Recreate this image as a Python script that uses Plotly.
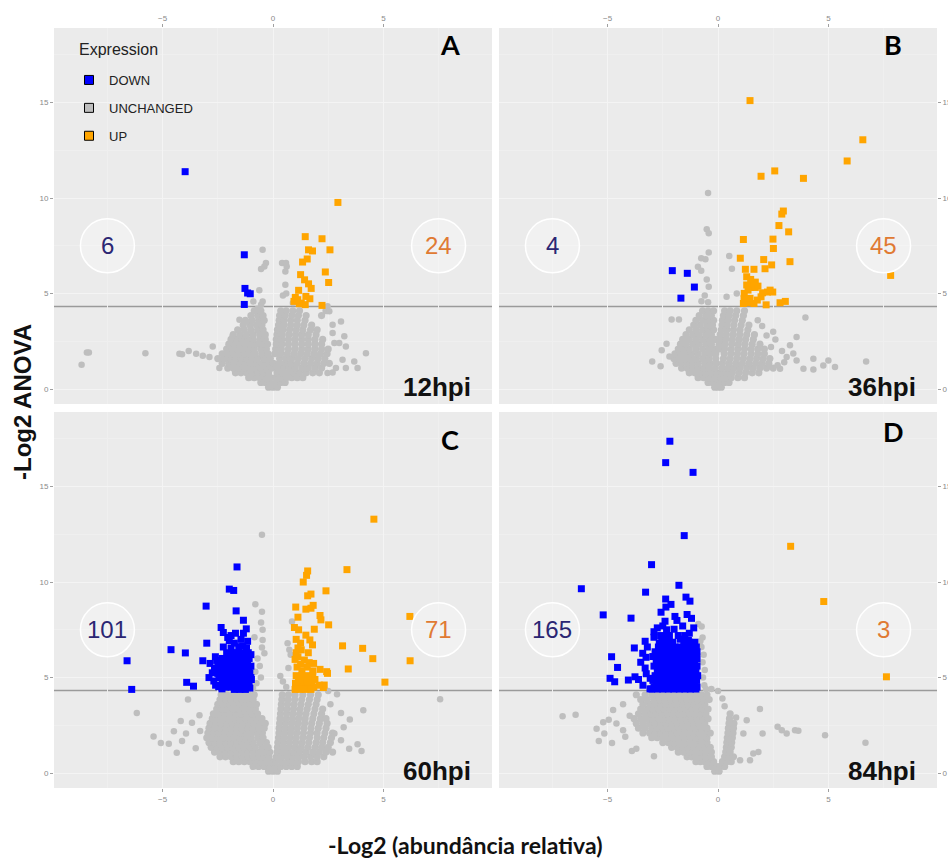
import plotly.graph_objects as go

# ---------------- DATA ----------------
PANELS = ["A", "B", "C", "D"]
TIMES = ["12hpi", "36hpi", "60hpi", "84hpi"]
N_DOWN = [6, 4, 101, 165]
N_UP = [24, 45, 71, 3]
THRESHOLD = 4.32  # -log2(0.05)

# ---- Panel A (12hpi) ----
DOWN_A = [(-3.98, 11.38), (-1.30, 7.03), (-1.27, 5.27), (-1.15, 5.03), (-1.03, 4.99), (-1.30, 4.43)]
UP_A = [(2.94, 9.77), (1.46, 7.98), (2.22, 7.87), (1.61, 7.29), (1.79, 7.23), (2.58, 7.29),
        (1.55, 6.81), (1.34, 6.65), (2.37, 6.13), (1.25, 5.99), (1.43, 5.72), (1.61, 5.51),
        (2.52, 5.58), (1.73, 5.27), (1.16, 5.17), (1.01, 4.80), (1.49, 4.85), (1.67, 4.73),
        (0.95, 4.59), (1.28, 4.50), (1.46, 4.42), (2.22, 4.38), (1.19, 4.47), (1.12, 4.68)]
GREY_A_ROWS = [
    (0.10, [-0.2, 0.0, 0.2]),
    (0.35, [-0.55, -0.35, -0.15, 0.15, 0.35, 0.55]),
    (0.60, [-1.1, -0.85, -0.6, -0.35, -0.12, 0.12, 0.35, 0.6, 0.85, 1.1, 1.35]),
    (0.85, [-1.7, -1.45, -1.2, -0.95, -0.7, -0.45, -0.2, 0.18, 0.42, 0.68, 0.95, 1.2, 1.5, 1.8, 2.1]),
    (1.10, [-2.05, -1.8, -1.55, -1.3, -1.05, -0.8, -0.55, -0.3, -0.05, 0.22, 0.48, 0.75, 1.0, 1.3, 1.6, 1.9, 2.2]),
    (1.35, [-2.3, -2.0, -1.75, -1.5, -1.25, -1.0, -0.75, -0.48, -0.25, 0.02, 0.28, 0.55, 0.8, 1.1, 1.4, 1.7, 2.0, 2.3, 2.55]),
    (1.60, [-2.5, -2.2, -1.95, -1.7, -1.45, -1.2, -0.95, -0.7, -0.4, -0.12, 0.3, 0.58, 0.85, 1.15, 1.45, 1.75, 2.05, 2.35]),
    (1.85, [-2.3, -2.05, -1.8, -1.55, -1.3, -1.05, -0.8, -0.5, -0.22, 0.08, 0.35, 0.65, 0.95, 1.25, 1.55, 1.85, 2.15, 2.45]),
    (2.10, [-2.1, -1.85, -1.6, -1.35, -1.1, -0.85, -0.55, -0.3, 0.12, 0.38, 0.7, 1.0, 1.3, 1.6, 1.9, 2.2, 2.5]),
    (2.35, [-2.0, -1.75, -1.5, -1.25, -1.0, -0.75, -0.5, -0.25, 0.15, 0.4, 0.7, 1.0, 1.3, 1.6, 1.9, 2.2]),
    (2.60, [-1.9, -1.65, -1.4, -1.15, -0.9, -0.6, -0.35, 0.15, 0.4, 0.7, 1.0, 1.3, 1.6, 1.9, 2.25]),
    (2.85, [-1.8, -1.5, -1.2, -0.9, -0.6, -0.35, 0.18, 0.42, 0.72, 1.02, 1.3, 1.6, 1.95]),
    (3.10, [-1.6, -1.3, -1.0, -0.7, -0.45, 0.2, 0.45, 0.75, 1.05, 1.35, 1.7, 2.0]),
    (3.35, [-1.35, -1.05, -0.75, -0.5, 0.25, 0.5, 0.8, 1.1, 1.4, 1.75]),
    (3.60, [-1.25, -0.95, -0.65, -0.4, 0.28, 0.5, 0.8, 1.1, 1.45]),
    (3.85, [-1.0, -0.7, -0.45, 0.3, 0.55, 0.85, 1.15, 1.5, 2.2]),
    (4.10, [-0.85, -0.55, 0.35, 0.6, 0.9, 1.2, 2.4]),
]
GREY_A_OUT = [(-8.67, 1.27), (-8.43, 1.92), (-8.34, 1.92), (-5.78, 1.88), (-4.24, 1.85), (-4.12, 1.82),
              (-3.82, 1.99), (-3.48, 1.85), (-3.18, 1.75), (-2.88, 1.68), (-2.73, 2.23), (-2.43, 1.10),
              (-0.47, 7.29), (-0.32, 6.60), (-0.39, 6.42), (-0.54, 6.28), (0.41, 6.60), (0.59, 6.60),
              (0.62, 6.42), (0.56, 6.16), (0.56, 5.46), (-0.62, 5.17), (-0.89, 4.59), (-0.47, 4.59),
              (-0.54, 4.42), (-1.52, 3.63), (-1.22, 3.54), (-1.83, 2.76), (2.47, 4.33), (2.55, 4.07),
              (2.70, 3.37), (3.08, 3.54), (2.70, 2.93), (3.23, 2.76), (2.78, 2.41), (3.00, 2.41),
              (3.30, 2.23), (4.21, 1.88), (3.68, 1.45), (3.83, 1.10), (3.30, 1.10), (2.85, 1.10),
              (2.70, 0.87), (2.47, 0.84), (3.15, 1.54), (0.60, 5.00), (0.90, 4.50), (0.45, 4.90),
              (-0.70, 4.20)]

# ---- Panel B (36hpi) ----
DOWN_B = [(-2.07, 6.20), (-1.39, 6.06), (-1.07, 5.34), (-1.68, 4.76)]
UP_B = [(1.45, 15.10), (6.56, 13.05), (5.85, 11.94), (1.95, 11.14), (2.57, 11.42), (3.87, 11.03),
        (2.96, 9.32), (2.89, 9.16), (2.76, 8.56), (3.20, 8.23), (1.15, 7.83), (2.49, 7.85),
        (2.51, 7.36), (1.01, 6.85), (2.07, 6.78), (3.26, 6.67), (2.43, 6.50), (2.13, 6.30),
        (1.24, 6.27), (1.63, 6.27), (1.30, 5.88), (1.48, 5.74), (1.57, 5.53), (1.69, 5.32),
        (1.48, 5.32), (1.81, 5.39), (1.36, 5.18), (1.19, 5.01), (2.02, 5.04), (2.24, 5.08),
        (2.48, 5.08), (1.95, 4.83), (1.18, 4.73), (1.42, 4.52), (1.15, 4.48), (1.63, 4.48),
        (2.18, 4.41), (2.81, 4.52), (3.05, 4.59), (7.82, 5.95), (1.69, 5.60), (1.30, 5.45),
        (1.78, 4.66), (2.36, 5.18), (1.45, 4.75)]
GREY_B_ROWS = [
    (0.10, [-0.15, 0.0, 0.15]),
    (0.35, [-0.45, -0.25, -0.05, 0.1, 0.3, 0.5]),
    (0.60, [-0.9, -0.65, -0.4, -0.15, 0.12, 0.35, 0.6, 0.9, 1.2]),
    (0.85, [-1.3, -1.05, -0.8, -0.55, -0.3, -0.05, 0.15, 0.4, 0.65, 0.95, 1.25, 1.55, 1.85]),
    (1.10, [-1.65, -1.4, -1.15, -0.9, -0.65, -0.4, -0.12, 0.18, 0.45, 0.72, 1.0, 1.3, 1.6, 1.9, 2.2, 2.5]),
    (1.35, [-1.9, -1.65, -1.4, -1.15, -0.9, -0.6, -0.35, -0.08, 0.2, 0.5, 0.8, 1.1, 1.4, 1.7, 2.0, 2.3]),
    (1.60, [-2.0, -1.75, -1.5, -1.25, -1.0, -0.7, -0.4, -0.1, 0.25, 0.55, 0.85, 1.15, 1.45, 1.75, 2.05, 2.35]),
    (1.85, [-1.95, -1.7, -1.45, -1.2, -0.9, -0.6, -0.35, -0.1, 0.28, 0.58, 0.88, 1.18, 1.5, 1.8, 2.1]),
    (2.10, [-1.8, -1.55, -1.3, -1.0, -0.7, -0.4, -0.15, 0.05, 0.3, 0.6, 0.9, 1.2, 1.5, 1.8, 2.1]),
    (2.35, [-1.7, -1.45, -1.15, -0.85, -0.55, -0.3, 0.05, 0.32, 0.62, 0.92, 1.22, 1.55, 1.9]),
    (2.60, [-1.6, -1.3, -1.0, -0.7, -0.4, -0.12, 0.1, 0.35, 0.65, 0.95, 1.25, 1.6]),
    (2.85, [-1.45, -1.15, -0.85, -0.55, -0.3, 0.1, 0.38, 0.68, 0.98, 1.3, 1.65]),
    (3.10, [-1.3, -1.0, -0.7, -0.45, -0.2, 0.15, 0.4, 0.7, 1.0, 1.35]),
    (3.35, [-1.1, -0.8, -0.5, -0.25, 0.18, 0.42, 0.72, 1.05, 1.4]),
    (3.60, [-1.0, -0.7, -0.45, -0.2, 0.2, 0.45, 0.75, 1.1]),
    (3.85, [-0.85, -0.55, -0.3, 0.25, 0.5, 0.8, 1.15]),
    (4.10, [-0.7, -0.45, -0.2, 0.3, 0.55, 0.85, 1.2]),
]
GREY_B_OUT = [(-0.45, 10.26), (-0.51, 8.37), (-0.42, 8.16), (-0.42, 7.15), (-0.76, 6.85), (-0.57, 6.80),
              (0.51, 6.97), (-0.91, 6.41), (-0.76, 6.20), (-0.51, 5.74), (-0.42, 5.36), (0.39, 4.83),
              (0.63, 6.30), (0.85, 5.01), (-0.60, 4.90), (-0.45, 4.55), (-0.75, 4.60), (3.96, 3.75),
              (3.56, 2.73), (3.26, 2.29), (-2.98, 1.45), (-2.55, 2.03), (-2.10, 3.64), (-1.77, 3.64),
              (-2.33, 2.38), (6.71, 1.45), (5.00, 1.50), (5.30, 1.16), (4.77, 1.24), (4.32, 1.59),
              (3.87, 1.07), (4.32, 1.02), (3.56, 1.50), (2.81, 1.07), (3.11, 1.68), (3.41, 1.86),
              (2.60, 2.60), (2.90, 2.00), (2.50, 3.00), (3.00, 1.40), (2.70, 1.25), (2.40, 2.20),
              (2.20, 2.80), (2.00, 3.30), (1.80, 3.60), (-2.20, 1.70), (-2.60, 1.20)]

# ---- Panel C (60hpi) ----
DOWN_C = [(-6.61, 5.88), (-6.40, 4.38), (-4.62, 6.46), (-3.97, 6.29), (-3.91, 4.75), (-3.60, 4.55),
          (-3.03, 8.74), (-3.00, 6.80), (-3.18, 5.88), (-2.85, 5.74), (-2.61, 6.09), (-2.65, 5.48),
          (-2.50, 5.22), (-2.68, 4.82), (-2.46, 4.52), (-2.31, 4.41), (-2.35, 7.62), (-2.25, 7.36),
          (-1.63, 10.79), (-1.98, 9.63), (-1.78, 9.56), (-1.67, 8.49), (-1.34, 8.00), (-1.21, 7.55),
          (-1.34, 7.32), (-1.70, 7.32), (-1.98, 6.94), (-1.75, 6.80), (-1.55, 6.62), (-1.37, 6.65),
          (-2.10, 6.30), (-1.85, 6.30), (-1.60, 6.30), (-1.35, 6.30), (-1.12, 6.30),
          (-2.30, 6.00), (-2.05, 6.00), (-1.80, 6.00), (-1.55, 6.00), (-1.30, 6.00), (-1.08, 6.00),
          (-2.40, 5.75), (-2.15, 5.75), (-1.90, 5.75), (-1.65, 5.75), (-1.40, 5.75), (-1.15, 5.75),
          (-2.35, 5.50), (-2.10, 5.50), (-1.85, 5.50), (-1.60, 5.50), (-1.35, 5.50), (-1.10, 5.50),
          (-2.30, 5.25), (-2.05, 5.25), (-1.80, 5.25), (-1.55, 5.25), (-1.30, 5.25), (-1.05, 5.25),
          (-2.45, 5.00), (-2.20, 5.00), (-1.95, 5.00), (-1.70, 5.00), (-1.45, 5.00), (-1.20, 5.00), (-1.00, 5.00),
          (-2.30, 4.75), (-2.05, 4.75), (-1.80, 4.75), (-1.55, 4.75), (-1.30, 4.75), (-1.08, 4.75),
          (-2.15, 4.50), (-1.90, 4.50), (-1.65, 4.50), (-1.40, 4.50), (-1.15, 4.50),
          (-1.75, 4.38), (-1.50, 4.38), (-1.25, 4.38), (-1.90, 6.55), (-1.20, 6.55),
          (-2.05, 7.10), (-1.90, 7.20), (-1.45, 7.00), (-1.15, 6.90), (-2.25, 6.60), (-2.55, 5.90),
          (-2.75, 5.25), (-2.90, 5.00), (-2.60, 4.60), (-1.00, 6.20), (-1.00, 5.60), (-0.98, 4.90),
          (-1.05, 4.45), (-2.50, 5.70), (-2.20, 5.35), (-1.95, 4.62), (-1.70, 6.15), (-1.45, 5.90),
          (-1.25, 4.65)]
UP_C = [(4.57, 13.29), (3.35, 10.65), (1.57, 10.58), (1.52, 10.35), (1.37, 10.00), (2.40, 9.54),
        (1.72, 9.37), (1.57, 9.28), (1.82, 8.78), (1.03, 8.69), (1.49, 8.58), (1.72, 8.63),
        (2.13, 8.25), (2.17, 8.02), (1.13, 8.16), (2.52, 7.76), (1.87, 7.53), (0.97, 7.62),
        (1.16, 7.50), (6.20, 8.20), (1.49, 7.22), (1.67, 6.97), (1.79, 6.71), (1.13, 6.55),
        (1.28, 6.45), (3.15, 6.66), (4.06, 6.53), (4.52, 5.99), (6.21, 5.88), (3.41, 5.45),
        (5.07, 4.76), (1.13, 6.09), (1.42, 5.92), (1.64, 5.78), (1.84, 5.74), (2.13, 5.43),
        (2.43, 5.31), (2.47, 5.22), (2.32, 4.61), (2.28, 4.48),
        (1.09, 5.55), (1.55, 5.55), (1.31, 5.35), (1.80, 5.35),
        (1.05, 5.10), (1.30, 5.10), (1.55, 5.10), (1.80, 5.10),
        (1.15, 4.90), (1.40, 4.90), (1.65, 4.90), (1.90, 4.90),
        (1.02, 4.70), (1.27, 4.70), (1.52, 4.70), (1.77, 4.70),
        (1.10, 4.50), (1.35, 4.50), (1.60, 4.50), (1.85, 4.50),
        (1.00, 4.38), (1.22, 4.38), (1.47, 4.38), (1.72, 4.38),
        (1.05, 6.30), (1.60, 6.30), (1.25, 6.80), (1.05, 7.00), (1.00, 5.95), (1.25, 5.70), (2.10, 4.60)]
GREY_C_ROWS = [
    (0.10, [-0.2, 0.0, 0.2]),
    (0.35, [-0.9, -0.65, -0.4, -0.15, 0.1, 0.35, 0.6, 0.85, 1.1]),
    (0.60, [-1.8, -1.55, -1.3, -1.05, -0.8, -0.55, -0.3, -0.08, 0.12, 0.38, 0.65, 0.9, 1.15, 1.45, 1.75, 2.0]),
    (0.85, [-2.4, -2.15, -1.9, -1.65, -1.4, -1.15, -0.9, -0.65, -0.4, -0.18, 0.15, 0.4, 0.65, 0.9, 1.15, 1.4, 1.7, 2.0, 2.3]),
    (1.10, [-2.65, -2.4, -2.15, -1.9, -1.65, -1.4, -1.15, -0.9, -0.65, -0.42, -0.15, 0.18, 0.42, 0.68, 0.95, 1.2, 1.5, 1.8, 2.1, 2.4, 2.7]),
    (1.35, [-2.8, -2.55, -2.3, -2.05, -1.8, -1.55, -1.3, -1.05, -0.8, -0.5, -0.22, 0.2, 0.45, 0.72, 1.0, 1.28, 1.58, 1.9, 2.2, 2.5]),
    (1.60, [-2.9, -2.65, -2.4, -2.15, -1.9, -1.65, -1.4, -1.15, -0.9, -0.6, -0.3, 0.22, 0.48, 0.75, 1.03, 1.32, 1.62, 1.95, 2.25, 2.6]),
    (1.85, [-3.0, -2.75, -2.5, -2.25, -2.0, -1.75, -1.5, -1.25, -1.0, -0.7, -0.45, 0.25, 0.5, 0.78, 1.05, 1.35, 1.65, 2.0, 2.3, 2.65]),
    (2.10, [-2.95, -2.7, -2.45, -2.2, -1.95, -1.7, -1.45, -1.2, -0.95, -0.7, -0.48, 0.27, 0.53, 0.8, 1.08, 1.38, 1.7, 2.0, 2.35, 2.7]),
    (2.35, [-2.9, -2.65, -2.4, -2.15, -1.9, -1.65, -1.4, -1.15, -0.9, -0.65, -0.4, 0.28, 0.55, 0.82, 1.1, 1.4, 1.72, 2.05, 2.4]),
    (2.60, [-2.85, -2.6, -2.35, -2.1, -1.85, -1.6, -1.35, -1.1, -0.85, -0.6, -0.35, 0.3, 0.57, 0.85, 1.13, 1.43, 1.75, 2.1, 2.45]),
    (2.85, [-2.75, -2.5, -2.25, -2.0, -1.75, -1.5, -1.25, -1.0, -0.75, -0.5, 0.32, 0.6, 0.88, 1.16, 1.46, 1.8, 2.15, 2.4]),
    (3.10, [-2.7, -2.45, -2.2, -1.95, -1.7, -1.45, -1.2, -0.95, -0.7, 0.34, 0.62, 0.9, 1.2, 1.5, 1.85, 2.2]),
    (3.35, [-2.55, -2.3, -2.05, -1.8, -1.55, -1.3, -1.05, -0.8, 0.36, 0.64, 0.93, 1.23, 1.55, 1.9, 2.25]),
    (3.60, [-2.5, -2.25, -2.0, -1.75, -1.5, -1.25, -1.0, -0.75, 0.38, 0.66, 0.96, 1.27, 1.6, 1.95]),
    (3.85, [-2.4, -2.15, -1.9, -1.65, -1.4, -1.15, -0.9, 0.4, 0.68, 0.98, 1.3, 1.65, 2.0]),
    (4.10, [-2.35, -2.1, -1.85, -1.6, -1.35, -1.1, -0.85, 0.42, 0.7, 1.0, 1.35, 1.7, 2.05]),
]
GREY_C_OUT = [(-0.50, 12.47), (-0.80, 8.84), (-0.50, 8.44), (-0.54, 7.88), (-0.47, 7.50), (-0.84, 7.11),
              (-0.47, 6.97), (-0.50, 6.58), (-0.39, 6.27), (0.66, 6.80), (0.74, 6.45), (0.86, 7.93),
              (0.33, 5.08), (7.57, 3.87), (4.09, 3.29), (3.48, 2.80), (3.08, 3.15), (2.90, 4.13),
              (2.78, 2.07), (3.08, 1.72), (3.45, 1.28), (3.83, 1.51), (4.01, 1.16), (-6.17, 3.15),
              (-3.85, 3.85), (-5.41, 1.91), (-5.08, 1.58), (-4.72, 1.54), (-4.36, 1.07), (-4.49, 2.19),
              (-4.18, 2.73), (-3.94, 2.07), (-3.67, 2.63), (-3.33, 3.03), (-4.12, 1.68), (-3.50, 1.30),
              (-3.30, 2.20), (-0.70, 6.00), (-0.60, 5.60), (-0.80, 5.30), (-0.55, 5.00), (-0.75, 4.70),
              (-0.90, 4.45), (0.60, 4.50), (0.45, 4.80), (0.70, 5.50), (0.80, 6.20), (2.60, 3.60),
              (2.50, 4.30), (3.20, 2.40)]

# ---- Panel D (84hpi) ----
DOWN_D = [(-2.18, 17.37), (-2.37, 16.25), (-1.13, 15.74), (-1.53, 12.43), (-3.01, 10.91), (-6.19, 9.65),
          (-1.77, 9.83), (-3.28, 9.47), (-2.37, 9.11), (-2.13, 8.83), (-2.36, 8.69), (-2.58, 8.42),
          (-1.45, 9.21), (-1.27, 9.00), (-5.20, 8.28), (-3.94, 8.11), (-1.86, 7.99), (-2.33, 7.50),
          (-1.99, 7.53), (-2.30, 7.18), (-1.30, 7.32), (-1.71, 7.01), (-1.34, 6.94), (-2.90, 7.11),
          (-2.66, 6.80), (-3.79, 6.55), (-4.82, 6.09), (-4.55, 5.53), (-4.89, 4.96), (-4.68, 4.78),
          (-4.06, 4.87), (-3.76, 5.04), (-3.41, 6.27), (-3.26, 6.06), (-3.07, 4.96), (-3.08, 4.41),
          (-2.55, 6.85), (-2.30, 6.85), (-2.05, 6.85), (-1.55, 6.85), (-1.30, 6.85), (-1.05, 6.85),
          (-2.70, 6.60), (-2.45, 6.60), (-2.20, 6.60), (-1.95, 6.60), (-1.70, 6.60), (-1.45, 6.60), (-1.20, 6.60), (-0.98, 6.60),
          (-2.85, 6.35), (-2.60, 6.35), (-2.35, 6.35), (-2.10, 6.35), (-1.85, 6.35), (-1.60, 6.35), (-1.35, 6.35), (-1.10, 6.35), (-0.95, 6.35),
          (-2.95, 6.10), (-2.70, 6.10), (-2.45, 6.10), (-2.20, 6.10), (-1.95, 6.10), (-1.70, 6.10), (-1.45, 6.10), (-1.20, 6.10), (-0.97, 6.10),
          (-2.80, 5.85), (-2.55, 5.85), (-2.30, 5.85), (-2.05, 5.85), (-1.80, 5.85), (-1.55, 5.85), (-1.30, 5.85), (-1.05, 5.85),
          (-2.90, 5.60), (-2.65, 5.60), (-2.40, 5.60), (-2.15, 5.60), (-1.90, 5.60), (-1.65, 5.60), (-1.40, 5.60), (-1.15, 5.60), (-0.95, 5.60),
          (-2.75, 5.35), (-2.50, 5.35), (-2.25, 5.35), (-2.00, 5.35), (-1.75, 5.35), (-1.50, 5.35), (-1.25, 5.35), (-1.00, 5.35),
          (-2.85, 5.10), (-2.60, 5.10), (-2.35, 5.10), (-2.10, 5.10), (-1.85, 5.10), (-1.60, 5.10), (-1.35, 5.10), (-1.10, 5.10), (-0.92, 5.10),
          (-2.95, 4.85), (-2.70, 4.85), (-2.45, 4.85), (-2.20, 4.85), (-1.95, 4.85), (-1.70, 4.85), (-1.45, 4.85), (-1.20, 4.85), (-0.97, 4.85),
          (-2.80, 4.60), (-2.55, 4.60), (-2.30, 4.60), (-2.05, 4.60), (-1.80, 4.60), (-1.55, 4.60), (-1.30, 4.60), (-1.05, 4.60),
          (-3.00, 4.40), (-2.75, 4.40), (-2.50, 4.40), (-2.25, 4.40), (-2.00, 4.40), (-1.75, 4.40), (-1.50, 4.40), (-1.25, 4.40), (-1.00, 4.40),
          (-2.60, 7.20), (-2.20, 7.20), (-1.80, 7.20), (-1.50, 7.20),
          (-2.90, 4.50), (-2.65, 4.50), (-2.40, 4.50), (-2.15, 4.50), (-1.90, 4.50), (-1.65, 4.50), (-1.40, 4.50), (-1.15, 4.50), (-0.95, 4.50),
          (-3.30, 5.50), (-3.50, 5.80), (-3.20, 6.60), (-2.90, 7.40), (-2.50, 7.70), (-1.60, 7.70), (-1.10, 7.60), (-3.40, 4.60),
          (-3.60, 4.90), (-3.25, 5.20), (-2.40, 7.95), (-1.95, 8.20), (-1.20, 8.10), (-3.30, 6.90), (-2.75, 7.60), (-1.40, 8.30),
          (-2.60, 5.98), (-2.35, 5.98), (-2.10, 5.98), (-1.85, 5.98), (-1.60, 5.98), (-1.35, 5.98), (-1.10, 5.98), (-0.95, 5.98)]
UP_D = [(3.29, 11.87), (4.79, 8.98), (7.63, 5.04)]
GREY_D_ROWS = [
    (0.10, [-0.15, 0.05]),
    (0.35, [-0.5, -0.3, -0.1, 0.1, 0.3]),
    (0.60, [-1.0, -0.8, -0.6, -0.4, -0.2, 0.2, 0.4, 0.6]),
    (0.85, [-1.4, -1.2, -1.0, -0.8, -0.55, -0.3, 0.3, 0.5, 0.7]),
    (1.10, [-1.8, -1.55, -1.3, -1.05, -0.8, -0.55, -0.3, 0.35, 0.55]),
    (1.35, [-2.1, -1.85, -1.6, -1.35, -1.1, -0.85, -0.6, -0.35, 0.38, 0.6]),
    (1.60, [-2.5, -2.25, -2.0, -1.75, -1.5, -1.25, -1.0, -0.75, -0.5, 0.4, 0.62]),
    (1.85, [-3.0, -2.75, -2.5, -2.25, -2.0, -1.75, -1.5, -1.25, -1.0, -0.75, -0.5, 0.42, 0.65]),
    (2.10, [-3.4, -3.1, -2.85, -2.6, -2.35, -2.1, -1.85, -1.6, -1.35, -1.1, -0.85, -0.6, -0.35, 0.45, 0.68]),
    (2.35, [-3.6, -3.3, -3.0, -2.75, -2.5, -2.25, -2.0, -1.75, -1.5, -1.25, -1.0, -0.75, -0.5, 0.47, 0.7]),
    (2.60, [-3.7, -3.4, -3.1, -2.85, -2.6, -2.35, -2.1, -1.85, -1.6, -1.35, -1.1, -0.85, -0.6, 0.5, 0.72]),
    (2.85, [-3.8, -3.5, -3.2, -2.95, -2.7, -2.45, -2.2, -1.95, -1.7, -1.45, -1.2, -0.95, -0.7, -0.45, 0.52]),
    (3.10, [-3.6, -3.3, -3.05, -2.8, -2.55, -2.3, -2.05, -1.8, -1.55, -1.3, -1.05, -0.8, -0.55, 0.55]),
    (3.35, [-3.5, -3.2, -2.95, -2.7, -2.45, -2.2, -1.95, -1.7, -1.45, -1.2, -0.95, -0.7, -0.45]),
    (3.60, [-3.4, -3.1, -2.85, -2.6, -2.35, -2.1, -1.85, -1.6, -1.35, -1.1, -0.85, -0.6]),
    (3.85, [-3.5, -3.2, -2.9, -2.65, -2.4, -2.15, -1.9, -1.65, -1.4, -1.15, -0.9, -0.65, -0.4]),
    (4.10, [-3.7, -3.3, -3.0, -2.75, -2.5, -2.25, -2.0, -1.75, -1.5, -1.25, -1.0, -0.75, -0.5]),
]
GREY_D_OUT = [(-7.04, 2.98), (-6.45, 3.05), (-5.50, 2.32), (-5.20, 2.66), (-4.95, 2.79), (-5.40, 1.68),
              (-5.15, 2.07), (-4.80, 1.58), (-4.30, 2.24), (-3.90, 1.16), (-3.70, 1.28), (-2.90, 0.88),
              (-4.20, 1.90), (-4.60, 2.60), (-4.75, 3.30), (-4.30, 3.60), (-4.00, 3.00),
              (0.82, 2.91), (1.30, 2.77), (1.90, 3.35), (1.15, 2.07), (2.02, 2.07), (2.70, 2.42),
              (2.89, 2.24), (3.11, 2.07), (3.49, 2.24), (3.64, 2.21), (4.85, 1.98), (6.68, 1.59),
              (1.00, 0.67), (1.45, 0.67), (1.83, 1.10), (1.60, 1.02), (0.30, 3.50), (0.20, 3.90),
              (0.00, 4.30), (-0.30, 4.40),
              (-0.74, 7.67), (-0.89, 7.81), (-0.70, 7.10), (-0.75, 6.60), (-0.65, 6.20), (-0.70, 5.80),
              (-0.60, 5.40), (-0.68, 5.00), (-0.62, 4.60), (-0.55, 4.40), (-0.80, 6.90)]

GREY_ROWS = [GREY_A_ROWS, GREY_B_ROWS, GREY_C_ROWS, GREY_D_ROWS]
GREY_OUT = [GREY_A_OUT, GREY_B_OUT, GREY_C_OUT, GREY_D_OUT]
DOWN = [DOWN_A, DOWN_B, DOWN_C, DOWN_D]
UP = [UP_A, UP_B, UP_C, UP_D]

# ---------------- STYLE / LAYOUT ----------------
W, H = 948, 861
ML, MR, MT, MB = 54, 11, 28, 73          # outer plot-area box in pixels
PW, PH = W - ML - MR, H - MT - MB
C_DOWN, C_GREY, C_UP = "#0000FF", "#BEBEBE", "#FFA500"
BG = "#EBEBEB"


def px(xp):   # page pixel -> paper x
    return (xp - ML) / PW


def py(yp):   # page pixel -> paper y
    return (H - MB - yp) / PH


XL, XR = [0.0, px(492)], [px(499), 1.0]
YT, YB = [py(404), 1.0], [0.0, py(412)]
DOMAINS = [(XL, YT), (XR, YT), (XL, YB), (XR, YB)]
XSIDE = ["top", "top", "bottom", "bottom"]
YSIDE = ["left", "right", "left", "right"]
LETTER_POS = [(8.57, 18.05), (8.43, 18.05), (8.50, 17.45), (8.52, 17.87)]


def unzip(pairs):
    return [p[0] for p in pairs], [p[1] for p in pairs]


def rows_xy(rows):
    xs, ys = [], []
    for y, row in rows:
        for x in row:
            xs.append(x)
            ys.append(y)
    return xs, ys


fig = go.Figure()
shapes, annotations = [], []
for i in range(4):
    sfx = "" if i == 0 else str(i + 1)
    xa, ya = "x" + sfx, "y" + sfx
    gx, gy = rows_xy(GREY_ROWS[i])
    fig.add_trace(go.Scatter(x=gx, y=gy, mode="markers", xaxis=xa, yaxis=ya,
                             marker=dict(symbol="circle", size=7.2, color=C_GREY),
                             showlegend=False, hoverinfo="skip"))
    ox, oy = unzip(GREY_OUT[i])
    fig.add_trace(go.Scatter(x=ox, y=oy, mode="markers", xaxis=xa, yaxis=ya,
                             marker=dict(symbol="circle", size=6.5, color=C_GREY),
                             showlegend=False, hoverinfo="skip"))
    dx, dy = unzip(DOWN[i])
    fig.add_trace(go.Scatter(x=dx, y=dy, mode="markers", xaxis=xa, yaxis=ya,
                             marker=dict(symbol="square", size=7, color=C_DOWN),
                             showlegend=False))
    ux, uy = unzip(UP[i])
    fig.add_trace(go.Scatter(x=ux, y=uy, mode="markers", xaxis=xa, yaxis=ya,
                             marker=dict(symbol="square", size=7, color=C_UP),
                             showlegend=False))

    xd, yd = DOMAINS[i]
    axcommon = dict(showline=False, zeroline=False, ticks="outside", ticklen=3,
                    tickcolor="#A0A0A0", tickwidth=1, automargin=False,
                    tickfont=dict(size=8, color="#8A8A8A", family="Liberation Sans"),
                    gridcolor="#F4F4F4", gridwidth=1,
                    minor=dict(dtick=2.5, showgrid=True, gridcolor="#EFEFEF", gridwidth=0.6),
                    tickmode="linear", tick0=0, dtick=5, fixedrange=True)
    fig.update_layout(**{
        "xaxis" + sfx: dict(domain=xd, range=[-9.92, 9.92], anchor=ya, side=XSIDE[i], **axcommon),
        "yaxis" + sfx: dict(domain=yd, range=[-0.78, 18.9], anchor=xa, side=YSIDE[i], **axcommon),
    })

    # significance threshold
    shapes.append(dict(type="line", xref=xa + " domain", yref=ya, x0=0, x1=1,
                       y0=THRESHOLD, y1=THRESHOLD, line=dict(color="#9A9A9A", width=1.5),
                       layer="below"))
    # count bubbles
    for cx, n, col in [(-7.5, N_DOWN[i], "#2B2673"), (7.5, N_UP[i], "#E07A33")]:
        shapes.append(dict(type="circle", xref=xa, yref=ya, xsizemode="pixel", ysizemode="pixel",
                           xanchor=cx, yanchor=7.5, x0=-27, x1=27, y0=-27, y1=27,
                           fillcolor="rgba(255,255,255,0.30)", line=dict(color="white", width=1.5)))
        annotations.append(dict(x=cx, y=7.5, xref=xa, yref=ya, text=str(n), showarrow=False,
                                font=dict(size=24, color=col, family="Liberation Sans"),
                                xanchor="center", yanchor="middle"))
    lx, ly = LETTER_POS[i]
    annotations.append(dict(x=lx, y=ly, xref=xa, yref=ya, text="<b>%s</b>" % PANELS[i],
                            showarrow=False, xanchor="right", yanchor="middle",
                            font=dict(size=27, color="black", family="Lato")))
    annotations.append(dict(x=9.05, y=0.1, xref=xa, yref=ya, text="<b>%s</b>" % TIMES[i],
                            showarrow=False, xanchor="right", yanchor="middle",
                            font=dict(size=26, color="#111111", family="Liberation Sans")))

# legend entries (drawn with the ggplot-like black key outline)
for name, col in [("DOWN", C_DOWN), ("UNCHANGED", C_GREY), ("UP", C_UP)]:
    fig.add_trace(go.Scatter(x=[None], y=[None], mode="markers", name=name, legendgroup=name,
                             marker=dict(symbol="square", size=9, color=col,
                                         line=dict(color="black", width=1))))

annotations.append(dict(x=px(77), y=py(50), xref="paper", yref="paper", text="Expression",
                        showarrow=False, xanchor="left", yanchor="middle",
                        font=dict(size=16, color="#222222", family="Liberation Sans")))
annotations.append(dict(x=px(22), y=py(402), xref="paper", yref="paper",
                        text="<b>-Log2 ANOVA</b>", textangle=-90, showarrow=False,
                        font=dict(size=24, color="#111111", family="Liberation Sans"),
                        xanchor="center", yanchor="middle"))
annotations.append(dict(x=px(465), y=py(845), xref="paper", yref="paper",
                        text="<b>-Log2 (abundância relativa)</b>", showarrow=False,
                        font=dict(size=23, color="#111111", family="Lato"),
                        xanchor="center", yanchor="middle"))

fig.update_layout(
    width=W, height=H, margin=dict(l=ML, r=MR, t=MT, b=MB, autoexpand=False),
    paper_bgcolor="white", plot_bgcolor=BG,
    shapes=shapes, annotations=annotations,
    showlegend=True,
    legend=dict(x=px(69), y=py(65), xanchor="left", yanchor="top",
                bgcolor="rgba(0,0,0,0)", itemsizing="trace", tracegroupgap=8,
                font=dict(size=13, color="#222222", family="Liberation Sans")),
)

fig.write_html("out.html", config={"displayModeBar": False},
               post_script="document.body.style.margin='0';")
